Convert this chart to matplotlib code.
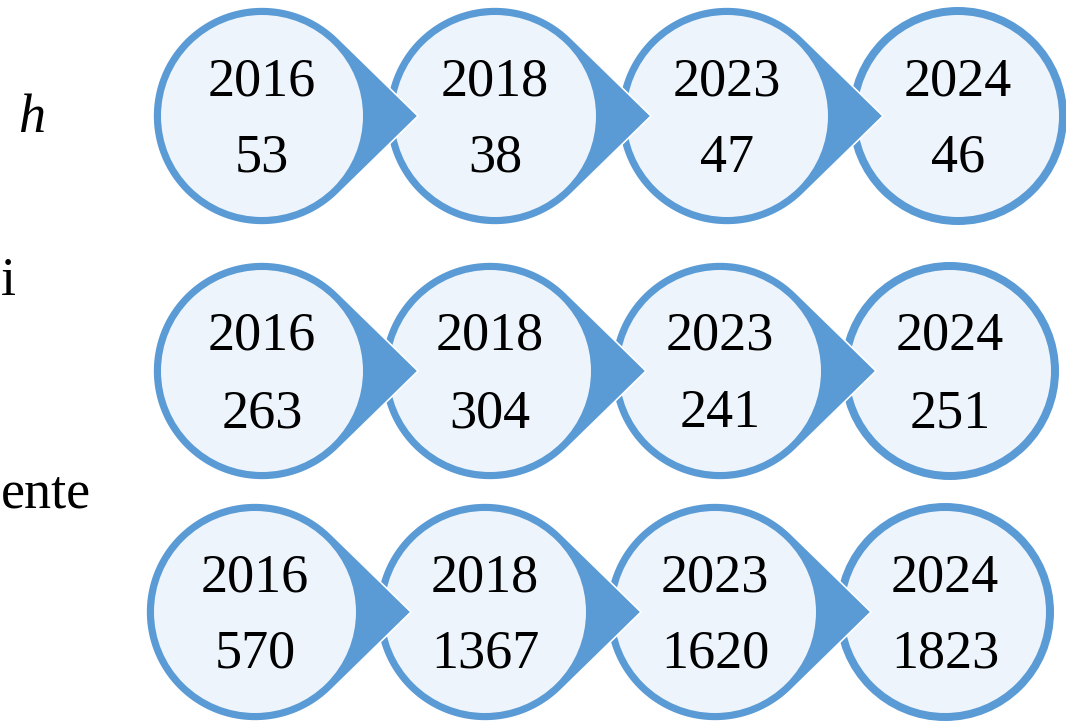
import numpy as np
import matplotlib
matplotlib.use("Agg")
import matplotlib.pyplot as plt
from matplotlib.patches import Polygon, Circle

# data
years = ["2016", "2018", "2023", "2024"]
row_labels = ["h", "i", "ente"]
row_values = [
    [53, 38, 47, 46],
    [263, 304, 241, 251],
    [570, 1367, 1620, 1823],
]

# layout (pixels, y grows downward)
row_y = [116, 371, 612]
row_x = [
    [262, 495, 727, 958],
    [262, 490, 720, 950],
    [255, 485, 715, 945],
]
label_pos = [(45, 132, "italic", "right"), (1, 295, "normal", "left"),
             (1, 507, "normal", "left")]
R_OUT = 109
BORDER = 8
TIP = 156
BLUE = "#5B9BD5"
FILL = "#EDF4FB"

plt.rcParams["font.family"] = ["Liberation Serif", "DejaVu Serif"]

fig = plt.figure(figsize=(10.66, 7.24), dpi=100)
ax = fig.add_axes([0, 0, 1, 1])
ax.set_xlim(0, 1066)
ax.set_ylim(724, 0)
ax.set_aspect("equal")
ax.axis("off")


def bubble(cx, cy, z, tail=True):
    if tail:
        th = np.arccos(R_OUT / TIP)
        ang = np.linspace(th, 2 * np.pi - th, 200)
        pts = np.column_stack([cx + R_OUT * np.cos(ang), cy + R_OUT * np.sin(ang)])
        pts = np.vstack([pts, [cx + TIP, cy]])
        ax.add_patch(Polygon(pts, closed=True, facecolor=BLUE, edgecolor="white",
                             linewidth=1.2, zorder=z, joinstyle="miter"))
    else:
        ax.add_patch(Circle((cx, cy), R_OUT, facecolor=BLUE, edgecolor="none",
                            zorder=z))
    ax.add_patch(Circle((cx, cy), R_OUT - BORDER, facecolor=FILL,
                        edgecolor="none", zorder=z + 0.1))


for r, vals in enumerate(row_values):
    cy = row_y[r]
    # draw right to left so each tail sits on top of the next circle
    for i in range(len(years) - 1, -1, -1):
        cx = row_x[r][i]
        z = 10 + (len(years) - i) * 2
        bubble(cx, cy, z, tail=(i < len(years) - 1))
        ax.text(cx, cy - 21, years[i], ha="center", va="baseline",
                fontsize=39, zorder=z + 0.5)
        ax.text(cx, cy + 56, str(vals[i]), ha="center", va="baseline",
                fontsize=39, zorder=z + 0.5)

for (x, y, style, ha), lab in zip(label_pos, row_labels):
    ax.text(x, y, lab, ha=ha, va="baseline", fontsize=39, style=style)

fig.savefig("out.png", dpi=100)
